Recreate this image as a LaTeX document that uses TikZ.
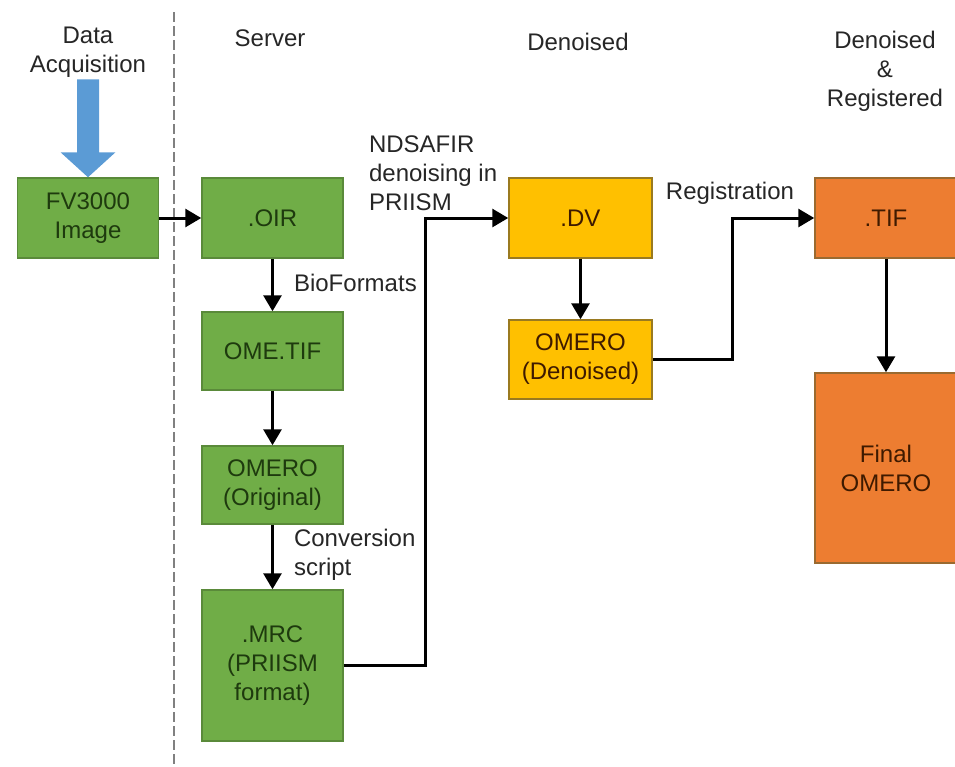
\documentclass[tikz,border=0pt]{standalone}
\usepackage{fontspec}
\setmainfont{Liberation Sans}
\usetikzlibrary{arrows, arrows.meta, calc}
\definecolor{boxgreen}{HTML}{70AD47}
\definecolor{boxgreenedge}{HTML}{5A8A3A}
\definecolor{txtgreen}{HTML}{1E3A0E}
\definecolor{boxyellow}{HTML}{FFC000}
\definecolor{boxyellowedge}{HTML}{9A7A20}
\definecolor{boxorange}{HTML}{ED7D31}
\definecolor{boxorangeedge}{HTML}{9A6A30}
\definecolor{txtbrown}{HTML}{3E1A00}
\definecolor{acqblue}{HTML}{5B9BD5}

\begin{document}
\begin{tikzpicture}[x=0.5pt, y=-0.5pt, >={Triangle[width=9pt,length=8pt]},
	line join=miter, font=\fontsize{12}{14.5}\selectfont,
	stage/.style={draw, line width=0.75pt, align=center, inner sep=0pt, minimum width=70.5pt},
	greenbox/.style={stage, fill=boxgreen, draw=boxgreenedge, text=txtgreen},
	yellowbox/.style={stage, fill=boxyellow, draw=boxyellowedge, text=txtbrown, minimum width=71.5pt},
	orangebox/.style={stage, fill=boxorange, draw=boxorangeedge, text=txtbrown, minimum width=71pt},
	flow/.style={->, line width=1.5pt},
	head/.style={align=center, text=black!85},
	note/.style={align=left, text=black!85, anchor=west}]
	
	\useasboundingbox (0,0) rectangle (955,767);
	
	% ===============================
	% ========== HEADERS ============
	% ===============================
	\node[head] (hacq) at (88,52) {Data\\Acquisition};
	\node[head] (hsrv) at (270,38) {Server};
	\node[head] (hden) at (578,42) {Denoised};
	\node[head] (hreg) at (885,71) {Denoised\\\&\\Registered};
	
	% separator between acquisition and server
	\draw[gray, line width=0.75pt, dash pattern=on 5pt off 2pt] (174,12) -- (174,767);
	
	% ---- Left: acquisition ----
	\node[greenbox, minimum height=40pt] (fv) at (88,218) {FV3000\\Image};
	% big block arrow coming down into the microscope image
	\fill[acqblue] (fv.north) -- ++(27.5,-25) -- ++(-16.5,0) -- ++(0,-73)
		-- ++(-22,0) -- ++(0,73) -- ++(-16.5,0) -- cycle;
	
	% ---- Server column ----
	\node[greenbox, minimum height=40pt] (oir) at (272.5,218) {.OIR};
	\node[greenbox, minimum height=39pt] (ometif) at (272.5,351) {OME.TIF};
	\node[greenbox, minimum height=39pt] (omorig) at (272.5,485) {OMERO\\(Original)};
	\node[greenbox, minimum height=75.5pt] (mrc) at (272.5,665.5) {.MRC\\(PRIISM\\format)};
	
	% ---- Denoised column ----
	\node[yellowbox, minimum height=40pt] (dv) at (580.5,218) {.DV};
	\node[yellowbox, minimum height=39.5pt] (omden) at (580.5,359.5) {OMERO\\(Denoised)};
	
	% ---- Denoised & registered column ----
	\node[orangebox, minimum height=40pt] (tif) at (886,218) {.TIF};
	\node[orangebox, minimum height=95pt] (final) at (886,468) {Final\\OMERO};
	
	% ---- connectors ----
	\draw[flow] (fv.east) -- (oir.west);
	\draw[flow] (oir) -- (ometif);
	\draw[flow] (ometif) -- (omorig);
	\draw[flow] (omorig) -- (mrc);
	
	\coordinate (jogA) at (425,0);
	\draw[flow] (mrc.east) -| (jogA |- dv.west) -- (dv.west);
	\draw[flow] (dv) -- (omden);
	
	\coordinate (jogB) at (732,0);
	\draw[flow] (omden.east) -| (jogB |- tif.west) -- (tif.west);
	\draw[flow] (tif) -- (final);
	
	% ---- connector labels ----
	\node[note] (lbio) at (287,283) {BioFormats};
	\node[note] (lconv) at (287,555) {Conversion\\script};
	\node[note] (lnds) at (362,173) {NDSAFIR\\denoising in\\PRIISM};
	\node[head] (lreg) at (730,193) {Registration};
	
\end{tikzpicture}
\end{document}
